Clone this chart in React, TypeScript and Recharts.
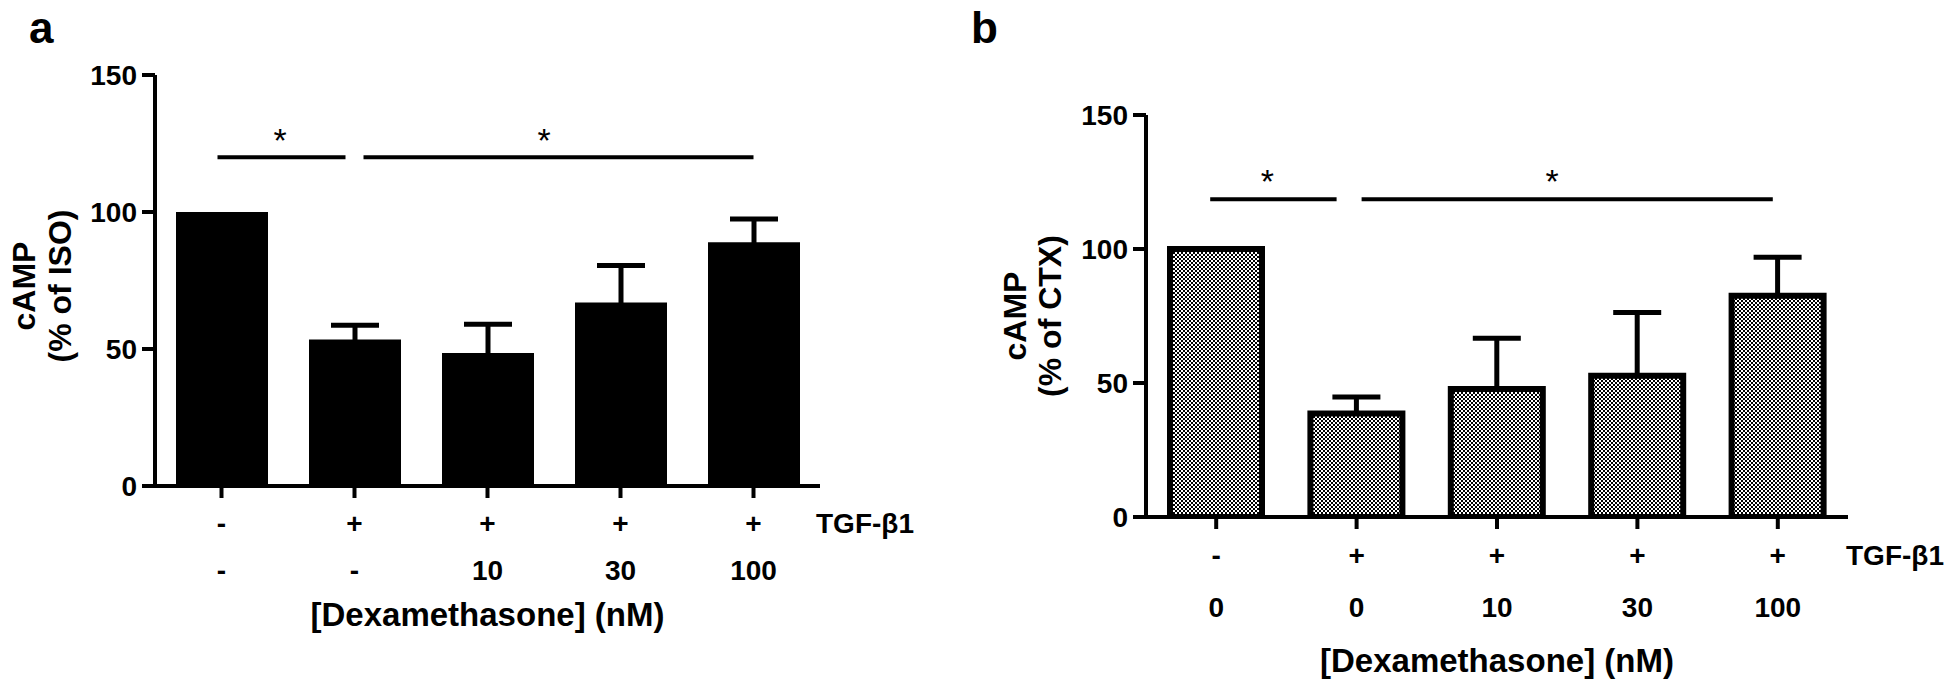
import React from 'react'
import { BarChart, Bar, XAxis, YAxis, ErrorBar, ReferenceLine } from 'recharts'

const FONT = '"Liberation Sans", Arial, Helvetica, sans-serif'
const H = 680

// treatment groups along x
const groups = ['ctrl', 'tgf', 'dex10', 'dex30', 'dex100']
const tgfRow = ['-', '+', '+', '+', '+']
const dexRowA = ['-', '-', '10', '30', '100']
const dexRowB = ['0', '0', '10', '30', '100']

// panel a: cAMP (% of ISO)
const isoMean = [100, 53.5, 48.5, 67, 89]
const isoSem = [null, 5.2, 10.5, 13.5, 8.4]

// panel b: cAMP (% of CTX)
const ctxMean = [100, 38.6, 47.8, 52.7, 82.6]
const ctxSem = [null, 6.2, 18.9, 23.6, 14.3]

const yTicks = [0, 50, 100, 150]

// significance bars: from/to group, small trims at the ends (px) and star nudge
type Sig = { from: string, to: string, trim: number[], starDx: number }
const sigA: Sig[] = [
    { from: 'ctrl', to: 'tgf', trim: [-4, 9], starDx: -8 },
    { from: 'tgf', to: 'dex100', trim: [9, 0], starDx: -10 },
]
const sigB: Sig[] = [
    { from: 'ctrl', to: 'tgf', trim: [-6, 20], starDx: -19 },
    { from: 'tgf', to: 'dex100', trim: [5, 5], starDx: -15 },
]

type PanelProps = {
    id: string
    letter: string
    means: number[]
    sem: (number | null)[]
    upOnly: boolean
    dex: string[]
    unit: string
    left: number
    width: number
    top: number
    bottom: number
    plotLeft: number
    plotRight: number
    barSize: number
    rows: number[]
    tgfDx: number
    yTitleX: number[]
    yTitleY: number
    sig: Sig[]
    sigLevel: number
    starLift: number
    letterLeft: number
    hatched: boolean
}

function Panel(p: PanelProps) {
    const data = groups.map((g, i) => {
        const e = p.sem[i]
        return { g, mean: p.means[i], err: e == null ? null : p.upOnly ? [0, e] : e }
    })
    const line = { stroke: '#000', strokeWidth: 4 }

    const renderTick = (props: any) => {
        const i = groups.indexOf(props.payload.value)
        return (
            <g>
                <text x={props.x} y={p.bottom + p.rows[0]} dy="0.35em" textAnchor="middle"
                    fontFamily={FONT} fontSize={28} fontWeight="bold" fill="#000">{tgfRow[i]}</text>
                <text x={props.x} y={p.bottom + p.rows[1]} dy="0.35em" textAnchor="middle"
                    fontFamily={FONT} fontSize={28} fontWeight="bold" fill="#000">{p.dex[i]}</text>
            </g>
        )
    }

    const renderXTitle = () => (
        <g>
            <text x={p.plotRight + p.tgfDx} y={p.bottom + p.rows[0]} dy="0.35em" textAnchor="start"
                fontFamily={FONT} fontSize={28} fontWeight="bold" fill="#000">TGF-β1</text>
            <text x={(p.plotLeft + p.plotRight) / 2} y={p.bottom + p.rows[2]} dy="0.35em" textAnchor="middle"
                fontFamily={FONT} fontSize={33} fontWeight="bold" fill="#000">[Dexamethasone] (nM)</text>
        </g>
    )

    const renderYTitle = () => (
        <g fontFamily={FONT} fontSize={32} fontWeight="bold" fill="#000" textAnchor="middle">
            <text x={p.yTitleX[0]} y={p.yTitleY} dy="0.35em"
                transform={`rotate(-90, ${p.yTitleX[0]}, ${p.yTitleY})`}>cAMP</text>
            <text x={p.yTitleX[1]} y={p.yTitleY} dy="0.35em"
                transform={`rotate(-90, ${p.yTitleX[1]}, ${p.yTitleY})`}>{`(% of ${p.unit})`}</text>
        </g>
    )

    const bracket = (trim: number[]) => (props: any) => (
        <line x1={props.x1 + trim[0]} y1={props.y1} x2={props.x2 - trim[1]} y2={props.y2}
            stroke="#000" strokeWidth={4} />
    )

    const star = (dx: number) => (props: any) => {
        const vb = props.viewBox || { x: 0, y: 0, width: 0 }
        return (
            <text x={vb.x + vb.width / 2 + dx} y={vb.y - p.starLift} textAnchor="middle"
                fontFamily={FONT} fontSize={34} fill="#000">*</text>
        )
    }

    return (
        <div style={{ position: 'absolute', left: p.left, top: 0, width: p.width, height: H }}>
            <div style={{
                position: 'absolute', left: p.letterLeft, top: 6, lineHeight: '44px',
                fontFamily: FONT, fontSize: 44, fontWeight: 'bold', color: '#000'
            }}>{p.letter}</div>
            <BarChart width={p.width} height={H} data={data}
                margin={{ top: p.top, right: p.width - p.plotRight, bottom: 2, left: 0 }}>
                <defs>
                    <pattern id={`checker-${p.id}`} width="4" height="4" patternUnits="userSpaceOnUse">
                        <rect width="4" height="4" fill="#fff" />
                        <rect x="0" y="0" width="2" height="2" fill="#000" />
                        <rect x="2" y="2" width="2" height="2" fill="#000" />
                    </pattern>
                </defs>
                <XAxis dataKey="g" height={H - p.bottom - 2} interval={0}
                    axisLine={line} tickLine={line} tickSize={12} tick={renderTick}
                    label={renderXTitle} />
                <YAxis width={p.plotLeft} domain={[0, 150]} ticks={yTicks} interval={0} allowDataOverflow
                    axisLine={line} tickLine={line} tickSize={13} tickMargin={5}
                    tick={{ fill: '#000', fontSize: 28, fontWeight: 'bold', fontFamily: FONT }}
                    label={renderYTitle} />
                <Bar dataKey="mean" barSize={p.barSize} isAnimationActive={false}
                    fill={p.hatched ? `url(#checker-${p.id})` : '#000'}
                    stroke={p.hatched ? '#000' : 'none'} strokeWidth={p.hatched ? 6 : 0}>
                    <ErrorBar dataKey="err" direction="y" width={24} strokeWidth={5} stroke="#000"
                        isAnimationActive={false} />
                </Bar>
                {p.sig.map((s, i) => (
                    <ReferenceLine key={`sig${i}`} ifOverflow="visible"
                        segment={[{ x: s.from, y: p.sigLevel }, { x: s.to, y: p.sigLevel }]}
                        shape={bracket(s.trim)} label={{ content: star(s.starDx) }} />
                ))}
            </BarChart>
        </div>
    )
}

export default function App() {
    return (
        <div style={{ position: 'absolute', left: 0, top: 0, width: 1946, height: H, background: '#fff', overflow: 'hidden' }}>
            <Panel id="a" letter="a" means={isoMean} sem={isoSem} upOnly={false} dex={dexRowA} unit="ISO"
                left={0} width={973} top={75} bottom={486} plotLeft={155} plotRight={820} barSize={92}
                rows={[37, 84, 128]} tgfDx={-4} yTitleX={[24, 60]} yTitleY={286}
                sig={sigA} sigLevel={120} starLift={5} letterLeft={29} hatched={false} />
            <Panel id="b" letter="b" means={ctxMean} sem={ctxSem} upOnly={true} dex={dexRowB} unit="CTX"
                left={973} width={973} top={115} bottom={517} plotLeft={173} plotRight={875} barSize={92}
                rows={[38, 90, 143]} tgfDx={-2} yTitleX={[42, 77]} yTitleY={316}
                sig={sigB} sigLevel={118.6} starLift={6} letterLeft={-2} hatched={true} />
        </div>
    )
}
